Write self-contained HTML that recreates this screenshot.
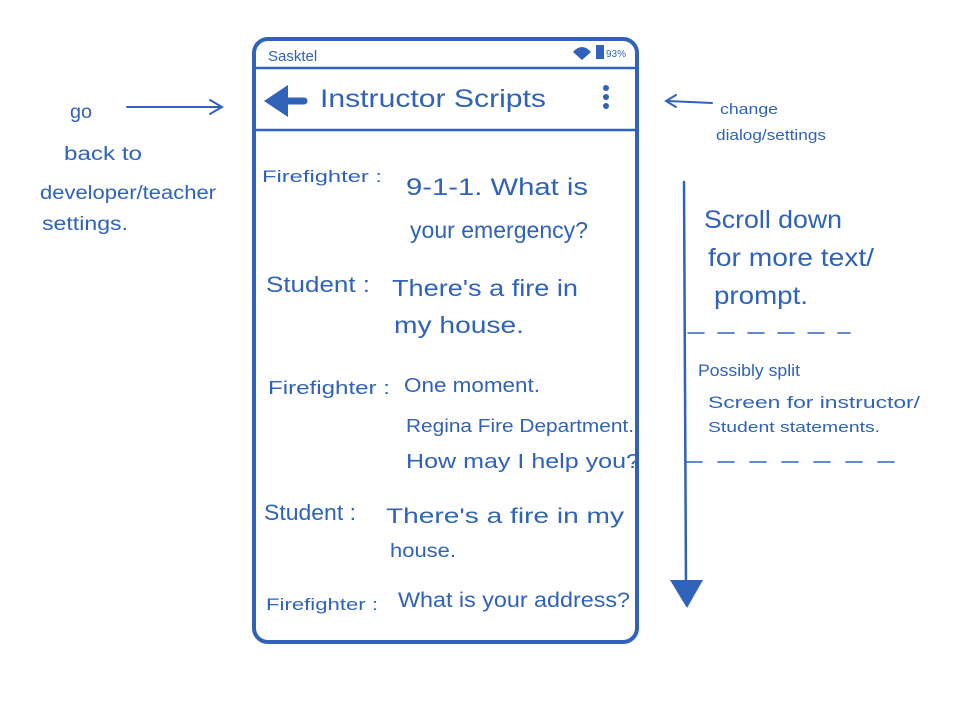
<!DOCTYPE html>
<html><head><meta charset="utf-8"><style>
html,body{margin:0;padding:0;background:#fff;}
svg{display:block}
text{font-family:"Liberation Sans",sans-serif;fill:#2f62b8;}
</style></head><body>
<svg width="964" height="702" viewBox="0 0 964 702">
<g stroke="#2f62b8" fill="none" stroke-linecap="round">
<rect x="254" y="39" width="383" height="603" rx="14" stroke-width="4"/>
<line x1="256" y1="68" x2="635" y2="68" stroke-width="2.5"/>
<line x1="256" y1="130" x2="635" y2="130" stroke-width="2.5"/>
<line x1="127" y1="107" x2="220" y2="107" stroke-width="2"/>
<path d="M210 100 L222 107 L210 114" stroke-width="2"/>
<line x1="668" y1="101" x2="712" y2="103" stroke-width="2"/>
<path d="M676 95 L666 101 L676 107" stroke-width="2"/>
<line x1="684" y1="182" x2="686" y2="590" stroke-width="2.5"/>
<line x1="688" y1="333" x2="850" y2="333" stroke-width="1.5" stroke-dasharray="16,14"/>
<line x1="686" y1="462" x2="910" y2="462" stroke-width="1.5" stroke-dasharray="16,16"/>
<line x1="276" y1="101" x2="304" y2="101" stroke-width="7"/>
</g>
<g fill="#2f62b8">
<polygon points="670,580 703,580 687,608"/>
<polygon points="264,101 288,85 288,117"/>
<circle cx="606" cy="88" r="3"/><circle cx="606" cy="97" r="3"/><circle cx="606" cy="106" r="3"/>
<path d="M573 52 Q582 42 591 52 L582 60 Z"/>
<rect x="596" y="45" width="8" height="14"/>
</g>
<text x="268" y="61" font-size="15">Sasktel</text>
<text x="606" y="57" font-size="10">93%</text>
<text x="320" y="107" font-size="25" textLength="226" lengthAdjust="spacingAndGlyphs">Instructor Scripts</text>
<g lengthAdjust="spacingAndGlyphs">
<text x="262" y="182" font-size="17" textLength="120" lengthAdjust="spacingAndGlyphs">Firefighter :</text>
<text x="406" y="195" font-size="24" textLength="182" lengthAdjust="spacingAndGlyphs">9-1-1. What is</text>
<text x="410" y="238" font-size="23" textLength="178" lengthAdjust="spacingAndGlyphs">your emergency?</text>
<text x="266" y="292" font-size="22" textLength="104" lengthAdjust="spacingAndGlyphs">Student :</text>
<text x="392" y="296" font-size="23" textLength="186" lengthAdjust="spacingAndGlyphs">There's a fire in</text>
<text x="394" y="333" font-size="23" textLength="130" lengthAdjust="spacingAndGlyphs">my house.</text>
<text x="268" y="394" font-size="18" textLength="122" lengthAdjust="spacingAndGlyphs">Firefighter :</text>
<text x="404" y="392" font-size="20" textLength="136" lengthAdjust="spacingAndGlyphs">One moment.</text>
<text x="406" y="432" font-size="18" textLength="228" lengthAdjust="spacingAndGlyphs">Regina Fire Department.</text>
<text x="406" y="468" font-size="20" textLength="234" lengthAdjust="spacingAndGlyphs">How may I help you?</text>
<text x="264" y="520" font-size="22" textLength="92" lengthAdjust="spacingAndGlyphs">Student :</text>
<text x="386" y="523" font-size="21" textLength="238" lengthAdjust="spacingAndGlyphs">There's a fire in my</text>
<text x="390" y="557" font-size="19" textLength="66" lengthAdjust="spacingAndGlyphs">house.</text>
<text x="266" y="610" font-size="17" textLength="112" lengthAdjust="spacingAndGlyphs">Firefighter :</text>
<text x="398" y="607" font-size="21" textLength="232" lengthAdjust="spacingAndGlyphs">What is your address?</text>
</g>
<g font-size="19">
<text x="70" y="118" textLength="22" lengthAdjust="spacingAndGlyphs">go</text>
<text x="64" y="160" textLength="78" lengthAdjust="spacingAndGlyphs">back to</text>
<text x="40" y="199" textLength="176" lengthAdjust="spacingAndGlyphs">developer/teacher</text>
<text x="42" y="230" textLength="86" lengthAdjust="spacingAndGlyphs">settings.</text>
<text x="720" y="114" font-size="15" textLength="58" lengthAdjust="spacingAndGlyphs">change</text>
<text x="716" y="140" font-size="15" textLength="110" lengthAdjust="spacingAndGlyphs">dialog/settings</text>
<text x="704" y="228" font-size="25" textLength="138" lengthAdjust="spacingAndGlyphs">Scroll down</text>
<text x="708" y="266" font-size="25" textLength="166" lengthAdjust="spacingAndGlyphs">for more text/</text>
<text x="714" y="304" font-size="25" textLength="94" lengthAdjust="spacingAndGlyphs">prompt.</text>
<text x="698" y="376" font-size="17" textLength="102" lengthAdjust="spacingAndGlyphs">Possibly split</text>
<text x="708" y="408" font-size="17" textLength="212" lengthAdjust="spacingAndGlyphs">Screen for instructor/</text>
<text x="708" y="432" font-size="15" textLength="172" lengthAdjust="spacingAndGlyphs">Student statements.</text>
</g>
</svg>
</body></html>
